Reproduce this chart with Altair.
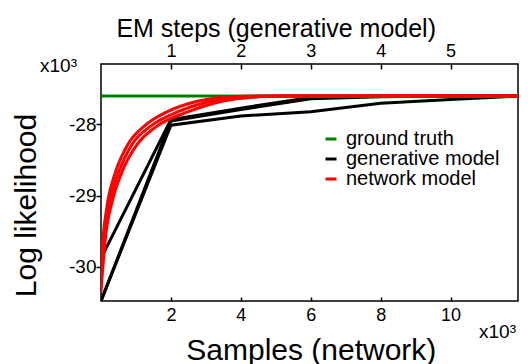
import altair as alt
import pandas as pd

# ---------------- data ----------------
# x in thousands of samples; 1 EM step of the generative model = 2 thousand samples
SAMPLES_PER_EM = 2.0
X_MAX = 11.93

# ground truth log likelihood (x10^3)
gt_x = [0.0, X_MAX]
gt_y = [-27.60, -27.60]

# generative model runs (EM steps)
em_steps = [0, 1, 2, 3, 4, 5, 6]
gen_a = [-29.88, -27.93, -27.77, -27.62, -27.60, -27.60, -27.60]
gen_b = [-30.48, -27.95, -27.79, -27.64, -27.61, -27.60, -27.60]
gen_c = [-30.48, -28.01, -27.88, -27.82, -27.70, -27.65, -27.60]

# network model runs (thousands of samples)
net_x1 = [0.0, 0.05, 0.20, 0.40, 0.78, 1.22, 1.90, 2.70, 3.50, 4.50, X_MAX]
net_y1 = [-29.92, -29.62, -29.06, -28.69, -28.27, -28.03, -27.82, -27.68, -27.62, -27.60, -27.60]
net_x2 = [0.0, 0.08, 0.26, 0.49, 0.90, 1.40, 2.20, 3.00, 4.00, 5.00, X_MAX]
net_y2 = [-30.12, -29.62, -29.06, -28.69, -28.27, -28.03, -27.82, -27.69, -27.63, -27.60, -27.60]
net_x3 = [0.0, 0.12, 0.33, 0.58, 1.05, 1.58, 2.50, 3.50, 4.50, 5.50, X_MAX]
net_y3 = [-30.35, -29.62, -29.06, -28.69, -28.27, -28.03, -27.82, -27.67, -27.61, -27.60, -27.60]

x_ticks = [2, 4, 6, 8, 10]
em_ticks = [1, 2, 3, 4, 5]
y_ticks = [-30, -29, -28]

models = ["ground truth", "generative model", "network model"]
colors = ["#008000", "#000000", "#ff0000"]

# ---------------- tables ----------------
gt_df = pd.DataFrame({"x": gt_x, "ll": gt_y, "model": models[0], "run": "gt"})

gen_rows = []
for name, vals in [("a", gen_a), ("b", gen_b), ("c", gen_c)]:
    for s, v in zip(em_steps, vals):
        gen_rows.append({"x": s * SAMPLES_PER_EM, "ll": v, "model": models[1], "run": "g" + name})
gen_df = pd.DataFrame(gen_rows)

net_rows = []
for name, xs, ys in [("1", net_x1, net_y1), ("2", net_x2, net_y2), ("3", net_x3, net_y3)]:
    for xv, yv in zip(xs, ys):
        net_rows.append({"x": xv, "ll": yv, "model": models[2], "run": "n" + name})
net_df = pd.DataFrame(net_rows)

# ---------------- styling ----------------
FONT = "Liberation Sans"
W, H = 417, 237

xscale = alt.Scale(domain=[0, X_MAX], nice=False, zero=False)
yscale = alt.Scale(domain=[-30.48, -27.15], nice=False, zero=False)
cscale = alt.Scale(domain=models, range=colors)

left_axis = alt.Axis(
    values=y_ticks, labelExpr="'-' + abs(datum.value)", title="Log likelihood",
    titleFontSize=30, titleX=-66, titleY=141, titleAngle=270, titleAlign="center",
    titleBaseline="alphabetic", tickSize=5, labelPadding=0, labelFontSize=19,
    domain=False, grid=False,
)
bottom_axis = alt.Axis(
    orient="bottom", values=x_ticks, title="Samples (network)", titleFontSize=30,
    titleX=209.8, titleY=62, titleAlign="center", titleBaseline="alphabetic",
    offset=-4, tickSize=4, labelPadding=5, labelFontSize=18, domain=False, grid=False,
)
top_axis = alt.Axis(
    orient="top", values=[t * SAMPLES_PER_EM for t in em_ticks],
    labelExpr="datum.value / 2", title="EM steps (generative model)", titleFontSize=25,
    titleX=174.7, titleY=-33, titleAlign="center", titleBaseline="alphabetic",
    offset=-5, tickSize=5, labelPadding=4, labelFontSize=18, domain=False, grid=False,
)
legend = alt.Legend(
    title=None, orient="none", legendX=220, legendY=65, symbolType="stroke",
    symbolSize=121, symbolStrokeWidth=3, labelFontSize=20, labelOffset=5,
    rowPadding=-7, padding=0, labelLimit=300, labelBaseline="middle",
)

gt = alt.Chart(gt_df).mark_line(strokeWidth=3, clip=True).encode(
    x=alt.X("x:Q", scale=xscale, axis=bottom_axis),
    y=alt.Y("ll:Q", scale=yscale, axis=left_axis),
    color=alt.Color("model:N", scale=cscale, legend=legend),
    detail="run:N",
)
gen = alt.Chart(gen_df).mark_line(strokeWidth=3, clip=True).encode(
    x=alt.X("x:Q", scale=xscale, axis=top_axis),
    y=alt.Y("ll:Q", scale=yscale, axis=left_axis),
    color=alt.Color("model:N", scale=cscale, legend=legend),
    detail="run:N",
)
net = alt.Chart(net_df).mark_line(strokeWidth=3, clip=True, interpolate="monotone").encode(
    x=alt.X("x:Q", scale=xscale, axis=None),
    y=alt.Y("ll:Q", scale=yscale, axis=left_axis),
    color=alt.Color("model:N", scale=cscale, legend=legend),
    detail="run:N",
)

ann_df = pd.DataFrame({"t": ["x10³"]})
ann_y = alt.Chart(ann_df).mark_text(
    align="left", baseline="alphabetic", fontSize=19, font=FONT, color="black"
).encode(text="t:N", x=alt.value(-61), y=alt.value(8))
ann_x = alt.Chart(ann_df).mark_text(
    align="left", baseline="alphabetic", fontSize=19, font=FONT, color="black"
).encode(text="t:N", x=alt.value(378), y=alt.value(274))

chart = (
    alt.layer(gt, gen, net, ann_y, ann_x)
    .resolve_axis(x="independent")
    .properties(
        width=W, height=H,
        autosize=alt.AutoSizeParams(type="none"),
        padding={"left": 93, "top": 56, "right": 6, "bottom": 63},
    )
    .configure_view(stroke="black", strokeWidth=1.5)
    .configure_axis(
        labelFont=FONT, titleFont=FONT, labelColor="black", titleColor="black",
        tickColor="black", tickWidth=1.5, titleFontWeight="normal",
    )
    .configure_legend(labelFont=FONT, labelColor="black")
)

chart.save("out.html", embed_options={"renderer": "svg", "actions": False})
